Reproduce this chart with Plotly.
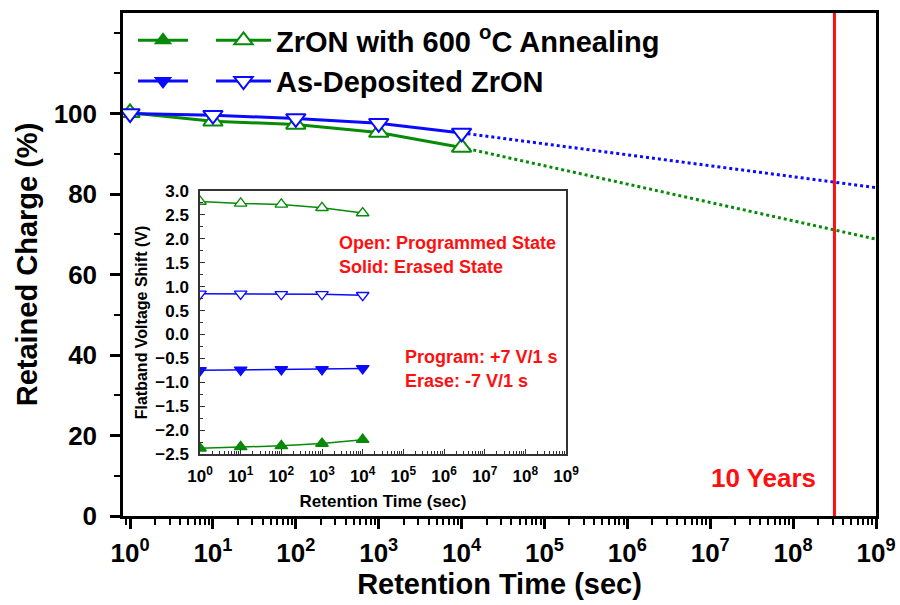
import math
import plotly.graph_objects as go

# ---------------- data ----------------
times = [1, 10, 100, 1000, 10000]

# main panel: retained charge (%)
main_green = [100.2, 98.1, 97.3, 95.3, 91.6]
main_blue = [100.0, 99.6, 98.8, 97.6, 95.2]

# extrapolation to 10^9 s
extrap_t = [1e4, 1e9]
extrap_green = [91.6, 68.8]
extrap_blue = [95.2, 81.6]

ten_years = 3.1536e8

# inset: flatband voltage shift (V)
inset_green_open = [2.78, 2.74, 2.72, 2.65, 2.54]
inset_blue_open = [0.85, 0.85, 0.84, 0.84, 0.82]
inset_blue_solid = [-0.75, -0.74, -0.73, -0.73, -0.71]
inset_green_solid = [-2.38, -2.35, -2.33, -2.28, -2.20]

# tick labels
x_tick_vals = [1, 1e1, 1e2, 1e3, 1e4, 1e5, 1e6, 1e7, 1e8, 1e9]
x_tick_text = ["10<sup>0</sup>", "10<sup>1</sup>", "10<sup>2</sup>", "10<sup>3</sup>",
               "10<sup>4</sup>", "10<sup>5</sup>", "10<sup>6</sup>", "10<sup>7</sup>",
               "10<sup>8</sup>", "10<sup>9</sup>"]
y_tick_vals = [0, 20, 40, 60, 80, 100]
inset_y_tick_vals = [-2.5, -2.0, -1.5, -1.0, -0.5, 0.0, 0.5, 1.0, 1.5, 2.0, 2.5, 3.0]

name_green = "ZrON with 600 <sup>o</sup>C Annealing"
name_blue = "As-Deposited ZrON"

GREEN = "#078a07"
BLUE = "#0a0aff"
RED = "#ff1010"
FONT = "Liberation Sans"

fig = go.Figure()

# ---- main traces ----
fig.add_trace(go.Scatter(
    x=extrap_t, y=extrap_green, mode="lines",
    line=dict(color=GREEN, width=3, dash="dot"), showlegend=False,
    xaxis="x", yaxis="y"))
fig.add_trace(go.Scatter(
    x=extrap_t, y=extrap_blue, mode="lines",
    line=dict(color=BLUE, width=3, dash="dot"), showlegend=False,
    xaxis="x", yaxis="y"))

# legend: solid symbols (no text)
fig.add_trace(go.Scatter(
    x=[None], y=[None], mode="lines+markers", name="",
    line=dict(color=GREEN, width=3),
    marker=dict(symbol="triangle-up", size=16, color=GREEN),
    legend="legend", legendgroup="g1", xaxis="x", yaxis="y"))
fig.add_trace(go.Scatter(
    x=[None], y=[None], mode="lines+markers", name="",
    line=dict(color=BLUE, width=3),
    marker=dict(symbol="triangle-down", size=16, color=BLUE),
    legend="legend", legendgroup="g2", xaxis="x", yaxis="y"))

fig.add_trace(go.Scatter(
    x=times, y=main_green, mode="lines+markers", name=name_green,
    line=dict(color=GREEN, width=3),
    marker=dict(symbol="triangle-up", size=17, color="white",
                line=dict(color=GREEN, width=2)),
    legend="legend2", legendgroup="h1", xaxis="x", yaxis="y"))
fig.add_trace(go.Scatter(
    x=times, y=main_blue, mode="lines+markers", name=name_blue,
    line=dict(color=BLUE, width=3),
    marker=dict(symbol="triangle-down", size=17, color="white",
                line=dict(color=BLUE, width=2)),
    legend="legend2", legendgroup="h2", xaxis="x", yaxis="y"))

# ---- inset traces ----
def inset_trace(y, color, symbol, filled):
    return go.Scatter(
        x=times, y=y, mode="lines+markers", showlegend=False,
        line=dict(color=color, width=1.5),
        marker=dict(symbol=symbol, size=11,
                    color=color if filled else "white",
                    line=dict(color=color, width=1.3)),
        xaxis="x2", yaxis="y2")

fig.add_trace(inset_trace(inset_green_open, GREEN, "triangle-up", False))
fig.add_trace(inset_trace(inset_blue_open, BLUE, "triangle-down", False))
fig.add_trace(inset_trace(inset_blue_solid, BLUE, "triangle-down", True))
fig.add_trace(inset_trace(inset_green_solid, GREEN, "triangle-up", True))

# ---- layout ----
L, R, T, B = 123, 24, 13, 89
W, H = 900, 605
pw, ph = W - L - R, H - T - B

def fx(px):
    return (px - L) / pw

def fy(py):
    return (H - B - py) / ph

main_axis_common = dict(
    showline=True, linecolor="black", linewidth=2.5, mirror=True,
    ticks="outside", tickcolor="black", tickwidth=2.5, ticklen=10,
    showgrid=False, zeroline=False, automargin=False,
)
inset_axis_common = dict(
    showline=True, linecolor="#333", linewidth=1.5, mirror=True,
    ticks="inside", ticklen=5, tickwidth=1.2, tickcolor="#333",
    showgrid=False, zeroline=False, automargin=False,
)

fig.update_layout(
    width=W, height=H,
    margin=dict(l=L, r=R, t=T, b=B),
    paper_bgcolor="white", plot_bgcolor="white",
    font=dict(family=FONT, color="black"),
    xaxis=dict(
        type="log", range=[-0.085, 9], tickvals=x_tick_vals, ticktext=x_tick_text,
        tickfont=dict(size=26, weight="bold"), ticklabelstandoff=2,
        minor=dict(dtick="D1", ticks="outside", ticklen=6, tickwidth=2, tickcolor="black"),
        title=dict(text="Retention Time (sec)", font=dict(size=29, weight="bold"), standoff=7),
        **main_axis_common),
    yaxis=dict(
        range=[0, 125], tickvals=y_tick_vals,
        tickfont=dict(size=26, weight="bold"), ticklabelstandoff=8,
        minor=dict(dtick=10, ticks="outside", ticklen=6, tickwidth=2, tickcolor="black"),
        title=dict(text="Retained Charge (%)", font=dict(size=29, weight="bold"), standoff=8),
        **main_axis_common),
    xaxis2=dict(
        type="log", range=[0, 9], tickvals=x_tick_vals, ticktext=x_tick_text,
        domain=[fx(200), fx(566)], anchor="y2",
        minor=dict(dtick="D1", ticks="inside", ticklen=3, tickwidth=1, tickcolor="#333"),
        tickfont=dict(size=17, weight="bold"), ticklabelstandoff=6,
        title=dict(text="Retention Time (sec)", font=dict(size=17, weight="bold"), standoff=10),
        **inset_axis_common),
    yaxis2=dict(
        range=[-2.5, 3.0], tickvals=inset_y_tick_vals, tickformat=".1f",
        domain=[fy(454), fy(191)], anchor="x2",
        minor=dict(dtick=0.25, ticks="inside", ticklen=3, tickwidth=1, tickcolor="#333"),
        tickfont=dict(size=17, weight="bold"), ticklabelstandoff=6,
        title=dict(text="Flatband Voltage Shift (V)", font=dict(size=16, weight="bold"), standoff=4),
        **inset_axis_common),
    legend=dict(
        x=fx(133), y=fy(15), xanchor="left", yanchor="top",
        bgcolor="rgba(0,0,0,0)", font=dict(size=29, weight="bold"),
        tracegroupgap=0, itemwidth=50),
    legend2=dict(
        x=fx(211), y=fy(15), xanchor="left", yanchor="top",
        bgcolor="rgba(0,0,0,0)", font=dict(size=29, weight="bold"),
        tracegroupgap=0, itemwidth=55),
    shapes=[
        dict(type="line", xref="x", yref="paper", x0=ten_years, x1=ten_years,
             y0=0, y1=1, line=dict(color=RED, width=3)),
        dict(type="rect", xref="x2 domain", yref="y2 domain", x0=0, x1=1, y0=0, y1=1,
             fillcolor="white", line=dict(width=0), layer="below"),
    ],
    annotations=[
        dict(text="10 Years", xref="x", yref="paper", x=math.log10(ten_years), y=fy(478),
             xanchor="right", yanchor="middle", xshift=-16, showarrow=False,
             font=dict(size=26, color=RED, weight="bold")),
        dict(text="Open: Programmed State", xref="x2 domain", yref="y2 domain",
             x=(337 - 200) / 366, y=(454 - 243) / 263, xanchor="left", yanchor="middle",
             showarrow=False, font=dict(size=18, color=RED, weight="bold")),
        dict(text="Solid: Erased State", xref="x2 domain", yref="y2 domain",
             x=(337 - 200) / 366, y=(454 - 267) / 263, xanchor="left", yanchor="middle",
             showarrow=False, font=dict(size=18, color=RED, weight="bold")),
        dict(text="Program: +7 V/1 s", xref="x2 domain", yref="y2 domain",
             x=(403 - 200) / 366, y=(454 - 357) / 263, xanchor="left", yanchor="middle",
             showarrow=False, font=dict(size=18, color=RED, weight="bold")),
        dict(text="Erase: -7 V/1 s", xref="x2 domain", yref="y2 domain",
             x=(403 - 200) / 366, y=(454 - 381) / 263, xanchor="left", yanchor="middle",
             showarrow=False, font=dict(size=18, color=RED, weight="bold")),
    ],
)

fig.write_html("out.html")
